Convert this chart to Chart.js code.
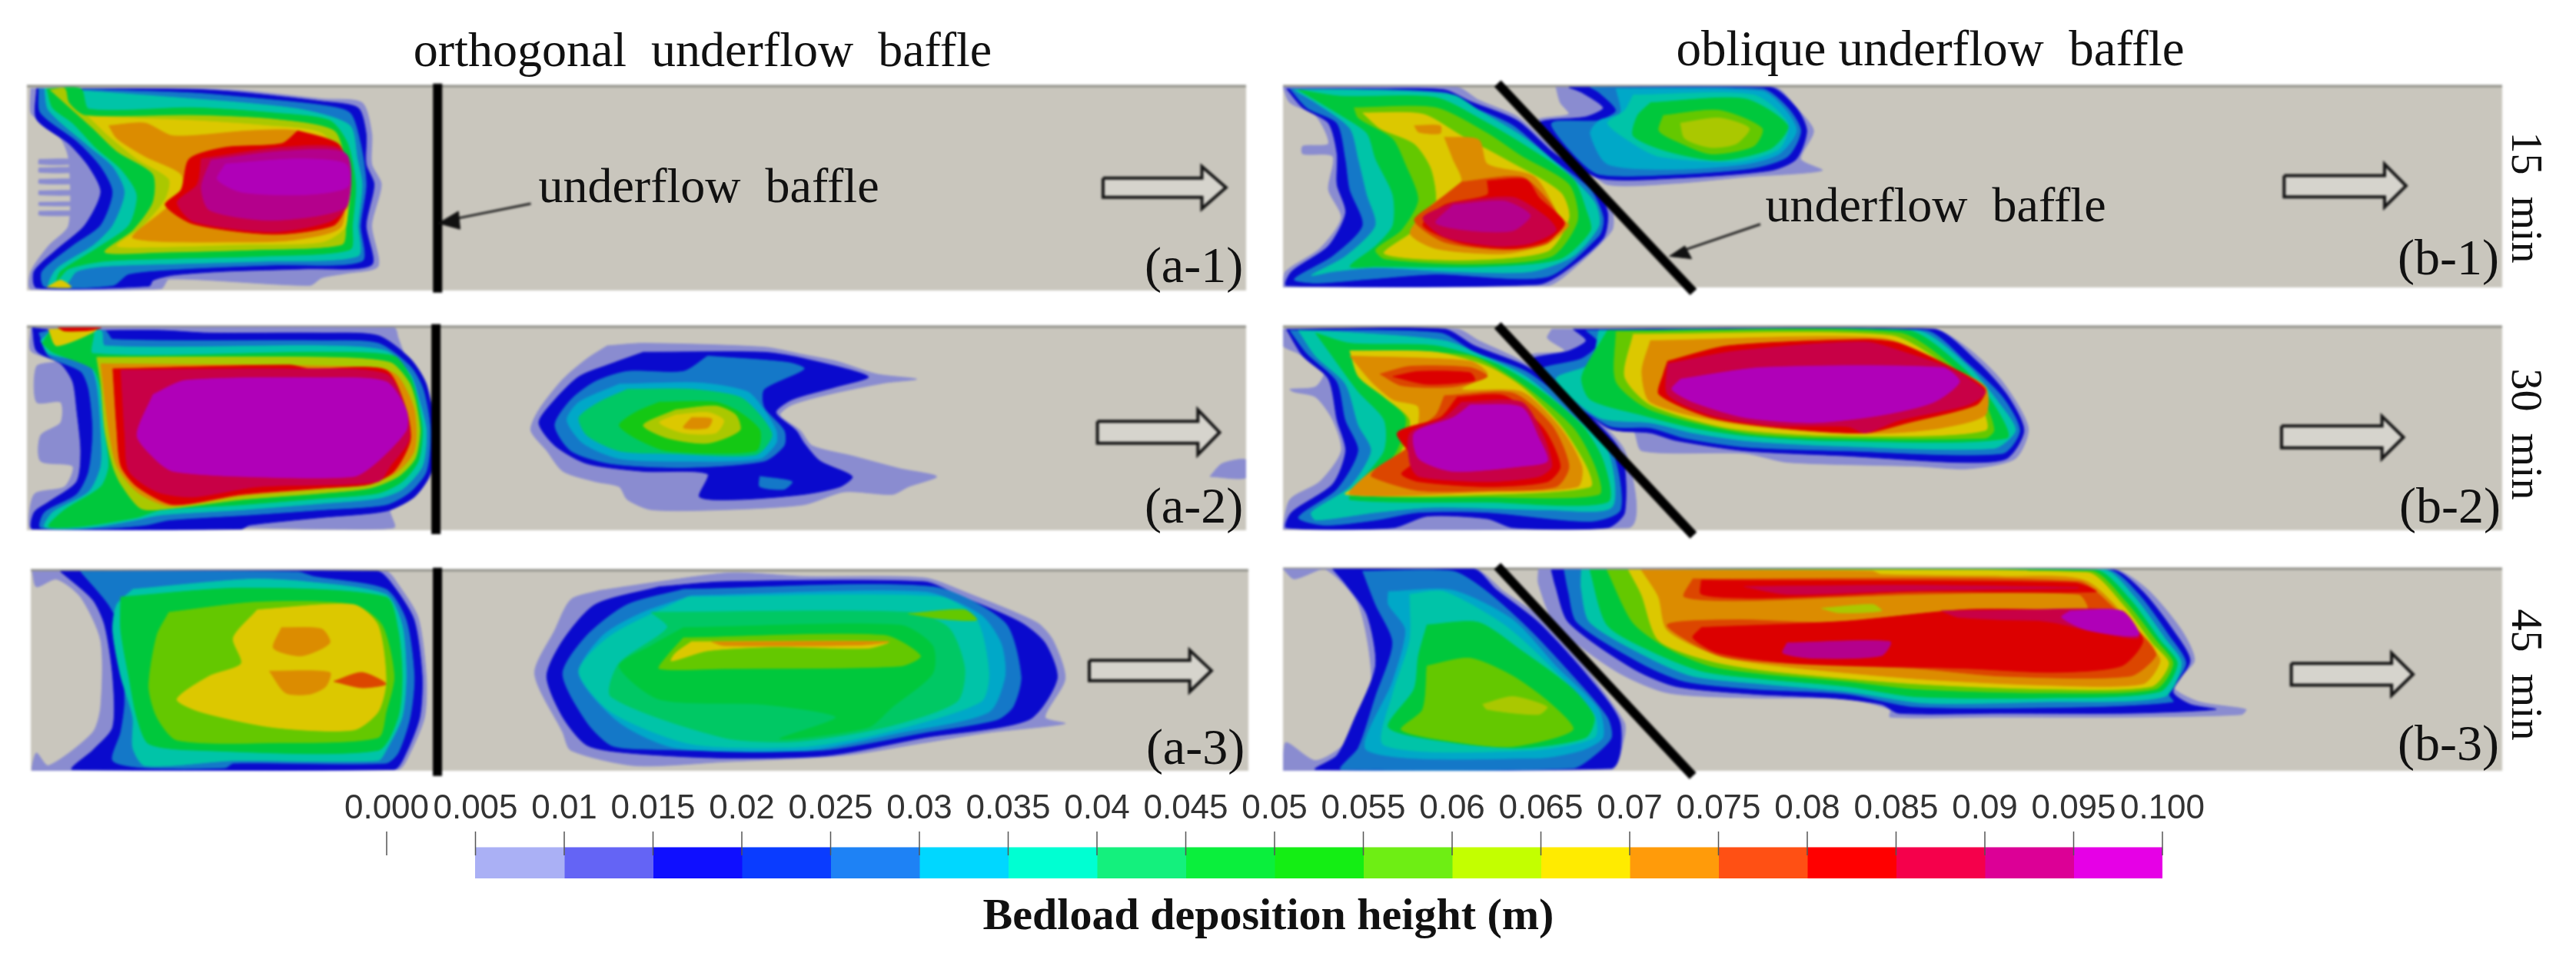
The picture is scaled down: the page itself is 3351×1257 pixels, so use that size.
<!DOCTYPE html>
<html>
<head>
<meta charset="utf-8">
<title>Bedload deposition height</title>
<script src="https://cdn.jsdelivr.net/npm/chart.js@4"></script>
<style>
    html, body { margin: 0; padding: 0; background: #fff; }
    #page { position: relative; width: 3351px; height: 1257px; overflow: hidden; }
    canvas { position: absolute; }
    canvas.panel { filter: blur(1.5px); }
    .label { position: absolute; transform: translate(-50%, -50%); white-space: pre; color: #111;
             font-family: "Liberation Serif", serif; line-height: 1; }
</style>
</head>
<body>
<div id="page"></div>
<script>
// Colour scale, 19 classes between the tick values
const tickValues = [0, 0.005, 0.01, 0.015, 0.02, 0.025, 0.03, 0.035, 0.04, 0.045, 0.05, 0.055, 0.06, 0.065, 0.07, 0.075, 0.08, 0.085, 0.09, 0.095, 0.1];
const tickLabels = ['0.000', '0.005', '0.01', '0.015', '0.02', '0.025', '0.03', '0.035', '0.04', '0.045', '0.05', '0.055', '0.06', '0.065', '0.07', '0.075', '0.08', '0.085', '0.09', '0.095', '0.100'];
const barColors = ['#aab0f5', '#6464f5', '#0f0fff', '#0a3cff', '#1e82f5', '#00d7ff', '#00ffd2', '#14f07d', '#0aef3c', '#14ee14', '#6eee14', '#c3ff00', '#ffeb00', '#ff9b0a', '#ff5014', '#ff0000', '#f5004b', '#dc0096', '#e600e6'];
// same classes as they look on the shaded bed
const mapColors = ['#8a8cd0', '#5a5ac8', '#0a0acd', '#0a32c8', '#1478c8', '#00a8c8', '#00c4a8', '#00c864', '#00c83c', '#14c814', '#64c800', '#aac800', '#dcc800', '#dc8c00', '#dc4600', '#dc0000', '#c80046', '#b4008c', '#b000b8'];

// Contours: [class, x,y outline], x along the flume, y across it
const panelA1 = [
    [0, [38,345, 240,345, 300,352, 400,385, 450,400, 462,520, 462,640, 474,720, 462,880, 470,1040, 430,1068, 400,1085, 385,1115, 210,1090, 200,1128, 38,1130, 38,1060, 60,960, 85,880, 85,620, 75,540, 48,470, 38,440]],
    [0, [48,622, 90,622, 90,640, 48,640]],
    [0, [48,655, 95,655, 95,672, 48,672]],
    [0, [48,700, 100,700, 100,716, 48,716]],
    [0, [48,745, 100,745, 100,760, 48,760]],
    [0, [48,790, 100,790, 100,802, 48,802]],
    [0, [48,825, 95,825, 95,840, 48,840]],
    [2, [45,345, 240,348, 300,360, 400,395, 445,420, 455,520, 455,640, 465,720, 455,880, 462,1035, 380,1050, 280,1060, 215,1075, 190,1095, 185,1118, 45,1125, 42,1060, 70,975, 105,880, 125,750, 110,650, 85,560, 45,465]],
    [4, [48,345, 130,350, 240,362, 300,378, 400,410, 435,440, 448,560, 455,720, 448,880, 450,1020, 340,1035, 230,1050, 160,1070, 140,1115, 55,1120, 52,1060, 90,960, 125,880, 140,750, 125,650, 95,550, 50,440]],
    [6, [55,345, 110,355, 240,385, 300,400, 380,430, 435,490, 444,620, 450,720, 445,880, 445,1000, 330,1020, 220,1030, 130,1040, 95,1060, 80,1118, 60,1118, 70,1050, 115,960, 140,880, 155,750, 140,650, 110,570, 60,430]],
    [8, [58,345, 100,345, 110,425, 240,420, 340,440, 410,470, 432,560, 442,720, 438,880, 435,975, 330,1000, 210,1010, 130,1020, 85,1050, 70,1100, 75,1060, 120,970, 160,880, 170,760, 150,660, 120,580, 90,480, 65,420]],
    [11, [62,350, 80,345, 85,400, 105,450, 240,450, 340,465, 415,510, 430,640, 436,720, 430,880, 425,955, 320,975, 200,985, 130,985, 165,900, 190,790, 190,680, 145,590, 115,500]],
    [12, [110,455, 240,470, 330,490, 400,520, 425,640, 430,880, 400,945, 300,955, 190,965, 145,960, 175,890, 205,780, 210,700, 170,620, 135,530]],
    [12, [58,1122, 75,1095, 88,1122]],
    [13, [135,490, 180,480, 215,530, 310,510, 370,510, 420,570, 425,880, 370,935, 300,945, 165,930, 200,830, 225,760, 225,680, 180,610, 145,540]],
    [15, [370,510, 420,560, 430,640, 430,800, 415,880, 340,915, 240,875, 205,800, 225,740, 235,620, 280,575, 350,560]],
    [16, [250,620, 350,575, 425,585, 432,800, 410,865, 340,905, 240,865, 220,790, 245,720]],
    [17, [262,625, 350,590, 430,600, 432,800, 400,840, 330,860, 260,820, 250,730]],
    [18, [280,640, 370,620, 430,640, 432,730, 380,760, 300,750, 270,700]]
];
const panelA2 = [
    [0, [38,80, 490,80, 495,120, 505,200, 525,300, 535,480, 530,650, 510,740, 485,790, 490,860, 400,865, 300,860, 38,865, 42,730, 80,700, 90,620, 50,600, 50,500, 75,450, 75,370, 45,370, 45,230, 70,210, 38,170]],
    [2, [40,80, 70,90, 200,90, 260,100, 400,100, 470,110, 510,200, 530,300, 540,480, 535,650, 515,740, 480,795, 400,820, 310,850, 300,865, 40,865, 42,800, 60,760, 95,680, 100,560, 95,400, 90,290, 75,220, 45,170]],
    [4, [48,100, 70,85, 130,90, 140,125, 400,130, 470,140, 510,230, 526,320, 535,480, 530,640, 510,720, 480,770, 400,790, 310,810, 210,830, 180,850, 130,862, 50,860, 55,800, 95,730, 110,640, 115,480, 110,320, 100,250, 60,190]],
    [6, [50,130, 65,90, 125,90, 130,150, 400,150, 480,170, 510,260, 520,350, 530,480, 525,620, 500,710, 470,745, 400,765, 300,790, 200,810, 160,835, 110,860, 55,858, 65,800, 110,720, 125,620, 125,480, 120,300, 110,220, 60,180]],
    [8, [52,140, 65,88, 115,90, 115,180, 400,175, 490,190, 510,270, 518,350, 525,480, 520,600, 500,680, 470,725, 400,745, 300,770, 200,790, 170,820, 100,855, 60,855, 80,790, 125,700, 135,620, 130,480, 125,320, 115,240, 65,175]],
    [12, [60,85, 120,85, 70,150]],
    [15, [72,80, 125,80, 110,90, 80,92]],
    [11, [120,195, 400,195, 485,215, 508,290, 516,360, 522,480, 516,590, 495,660, 460,705, 400,725, 300,750, 210,785, 175,785, 150,690, 140,620, 130,480, 125,300]],
    [13, [125,220, 470,235, 495,270, 515,400, 515,560, 490,650, 440,695, 300,735, 210,775, 170,720, 145,620, 135,480]],
    [15, [140,240, 360,225, 385,240, 480,245, 505,400, 510,520, 490,640, 460,690, 400,705, 300,730, 215,770, 170,700, 150,620, 145,480]],
    [16, [150,245, 360,240, 480,260, 505,400, 508,520, 485,620, 470,680, 320,700, 240,740, 195,720, 160,640, 155,500]],
    [18, [190,340, 230,285, 400,275, 480,290, 505,400, 505,480, 470,600, 440,660, 300,660, 215,640, 195,600, 170,500]],
    [0, [755,150, 800,140, 950,155, 1000,185, 1040,210, 1090,260, 1140,280, 1100,295, 1030,340, 985,380, 970,420, 995,480, 1010,540, 1060,580, 1120,630, 1165,660, 1130,700, 1110,730, 1050,720, 1000,770, 900,790, 810,790, 780,750, 770,700, 740,680, 700,640, 680,560, 660,480, 670,400, 700,280, 730,200]],
    [0, [1505,660, 1520,610, 1550,595, 1550,665]],
    [2, [800,175, 950,175, 1000,200, 1080,270, 1040,310, 985,360, 965,410, 990,480, 1000,530, 1020,600, 1060,660, 1045,700, 1000,730, 920,750, 870,740, 880,650, 800,640, 730,610, 690,540, 670,450, 690,360, 720,270, 760,220]],
    [4, [880,190, 980,215, 1000,240, 950,320, 950,390, 975,480, 975,540, 950,600, 850,625, 760,610, 710,560, 690,460, 710,360, 740,290, 780,250, 850,250]],
    [4, [945,660, 985,680, 975,710, 945,700]],
    [5, [770,300, 870,295, 930,330, 950,400, 965,480, 965,530, 945,590, 850,600, 770,590, 725,530, 705,440, 720,370]],
    [7, [780,320, 860,320, 920,350, 945,420, 960,500, 940,575, 830,570, 770,560, 730,500, 720,430, 745,370]],
    [9, [820,370, 890,370, 920,410, 945,480, 940,560, 830,560, 790,510, 770,460, 790,410]],
    [11, [840,400, 890,385, 915,420, 920,480, 880,530, 830,510, 800,460]],
    [12, [840,420, 880,410, 900,440, 890,490, 850,490, 820,450]],
    [13, [860,430, 885,435, 880,470, 850,470]]
];
const panelA3 = [
    [0, [40,70, 480,70, 495,120, 520,250, 530,480, 528,640, 510,780, 495,845, 40,850, 45,780, 60,830, 115,700, 125,600, 125,340, 100,170, 70,100, 45,130]],
    [2, [75,70, 470,70, 490,130, 515,260, 525,480, 522,640, 505,780, 490,845, 90,845, 115,770, 140,680, 140,480, 130,280, 115,180]],
    [4, [100,70, 370,72, 390,90, 480,140, 505,260, 515,480, 510,640, 495,780, 480,820, 290,820, 280,838, 180,838, 140,810, 150,700, 155,580, 150,300, 135,200]],
    [6, [165,140, 310,100, 380,110, 480,160, 500,280, 505,480, 500,640, 480,770, 470,810, 290,810, 180,830, 165,760, 165,640, 150,480, 140,300, 145,200]],
    [8, [150,170, 300,135, 480,170, 495,300, 500,480, 495,640, 470,770, 250,770, 185,745, 170,640, 160,480, 150,300]],
    [10, [210,230, 320,190, 440,200, 475,280, 490,480, 480,620, 470,720, 340,740, 220,730, 195,640, 185,520, 195,320]],
    [12, [320,220, 440,200, 470,280, 480,500, 470,620, 440,690, 340,680, 250,620, 220,570, 260,480, 300,430, 290,330]],
    [13, [350,290, 400,295, 410,350, 375,400, 340,370]],
    [13, [335,460, 410,465, 405,520, 385,550, 355,545]],
    [14, [415,500, 450,465, 480,510, 450,525]],
    [0, [745,145, 820,110, 910,75, 1000,90, 1150,95, 1200,150, 1290,270, 1310,340, 1325,490, 1300,640, 1325,665, 1230,700, 1150,740, 1050,790, 900,815, 790,830, 710,770, 700,700, 665,470, 690,300, 710,180]],
    [2, [820,130, 900,110, 1150,110, 1190,160, 1270,270, 1300,350, 1315,490, 1280,650, 1150,720, 1030,790, 900,800, 780,780, 730,750, 700,640, 680,480, 700,340, 740,200]],
    [4, [850,140, 1160,130, 1250,270, 1270,480, 1260,600, 1240,650, 1150,700, 1020,770, 800,765, 760,750, 730,660, 700,470, 730,320, 780,200]],
    [5, [860,165, 1150,150, 1220,240, 1245,350, 1250,480, 1230,620, 1120,700, 1000,770, 840,760, 770,660, 720,470, 750,320, 800,230]],
    [6, [855,170, 1170,170, 1215,260, 1230,470, 1220,580, 1100,700, 1000,755, 860,745, 760,620, 720,460, 760,320]],
    [7, [810,230, 1130,230, 1180,290, 1200,450, 1190,580, 1100,680, 990,735, 900,720, 760,560, 770,430, 830,290]],
    [8, [850,290, 1120,280, 1160,360, 1160,470, 1110,600, 1080,680, 970,725, 1040,640, 950,590, 820,570, 770,440, 810,360]],
    [10, [850,330, 1100,320, 1145,400, 1120,440, 900,450, 820,450, 830,400]],
    [10, [1130,235, 1200,220, 1215,260, 1170,255]],
    [12, [860,345, 1105,345, 1080,370, 960,365, 880,380, 835,420, 840,390]],
    [13, [885,345, 1105,345, 1070,358, 900,360]]
];
const panelB1 = [
    [0, [62,340, 265,340, 290,390, 335,455, 370,560, 420,700, 445,820, 445,900, 400,1050, 370,1115, 62,1120, 65,1060, 105,970, 130,850, 115,740, 120,610, 85,600, 85,570, 115,560, 100,450, 70,400]],
    [2, [66,345, 170,345, 250,350, 280,395, 335,470, 375,590, 425,720, 440,830, 435,930, 390,1060, 360,1110, 66,1115, 72,1060, 115,960, 135,830, 125,720, 125,600, 115,480, 85,420]],
    [4, [70,345, 250,360, 285,420, 330,490, 375,620, 420,740, 435,850, 430,920, 370,1080, 240,1070, 160,1090, 100,1105, 75,1090, 120,1000, 155,880, 140,740, 135,620, 125,480, 90,420]],
    [6, [75,350, 150,350, 260,370, 290,430, 340,530, 385,650, 425,790, 430,880, 400,1000, 350,1060, 260,1060, 170,1045, 120,1060, 95,1075, 135,1000, 170,880, 160,760, 150,620, 140,500, 100,400]],
    [8, [80,350, 130,375, 240,380, 295,470, 345,570, 400,700, 415,820, 420,900, 385,1010, 300,1040, 170,1040, 140,1040, 170,960, 190,880, 190,760, 170,620, 160,520, 130,450]],
    [10, [145,420, 240,420, 300,520, 340,610, 395,720, 405,860, 375,1000, 280,1030, 180,1010, 170,975, 200,900, 220,780, 205,640, 190,540, 150,460]],
    [12, [155,440, 225,445, 270,530, 320,620, 385,750, 395,850, 370,980, 270,1015, 180,990, 215,900, 240,800, 235,660, 215,560, 175,500]],
    [13, [215,490, 245,490, 245,520, 220,515]],
    [13, [250,535, 290,545, 300,640, 355,690, 385,850, 395,880, 370,950, 320,990, 240,970, 210,910, 235,800, 270,710, 260,620]],
    [14, [270,710, 340,690, 370,780, 385,870, 370,950, 320,975, 250,945, 215,860, 240,790]],
    [15, [300,705, 345,700, 360,770, 390,870, 370,940, 330,970, 270,950, 225,880, 250,800, 300,760]],
    [16, [260,790, 330,770, 370,850, 380,900, 350,950, 310,960, 250,925, 225,850]],
    [17, [260,800, 320,785, 350,840, 330,900, 280,900, 240,870]],
    [0, [380,340, 635,340, 660,420, 680,510, 665,620, 690,665, 600,690, 520,715, 440,720, 410,640, 370,500, 360,465, 395,445, 385,400]],
    [2, [395,340, 630,340, 660,420, 672,510, 660,620, 630,665, 520,695, 430,695, 390,600, 360,480, 415,455, 435,420, 410,360]],
    [4, [420,340, 620,345, 650,420, 665,510, 650,610, 610,655, 520,680, 430,680, 400,600, 375,480, 430,470, 450,430, 430,360]],
    [5, [450,345, 620,355, 645,420, 660,510, 640,600, 600,640, 520,660, 440,640, 420,520, 430,470, 455,440]],
    [6, [470,370, 610,370, 650,480, 640,580, 590,630, 500,610, 470,560, 440,480, 460,430]],
    [8, [490,400, 600,385, 650,490, 630,580, 570,625, 510,590, 470,530, 475,450]],
    [10, [505,450, 570,430, 620,500, 610,570, 560,600, 520,550, 500,510]],
    [11, [525,480, 570,460, 605,500, 590,560, 560,575, 530,540]]
];
const panelB2 = [
    [0, [62,85, 265,85, 290,130, 340,210, 400,360, 460,560, 465,860, 62,865, 70,750, 105,680, 130,560, 120,440, 100,350, 75,330, 70,320, 100,310, 110,250, 80,180, 62,150]],
    [2, [66,85, 250,85, 285,150, 345,230, 395,350, 455,560, 460,800, 440,860, 330,860, 300,825, 230,815, 190,860, 66,860, 72,800, 120,690, 135,560, 125,440, 115,280, 85,190]],
    [4, [70,90, 245,100, 285,175, 345,250, 395,380, 445,560, 455,790, 420,835, 300,800, 220,800, 170,830, 110,850, 80,820, 125,710, 150,560, 135,440, 125,290, 90,180]],
    [6, [80,90, 125,95, 250,130, 295,190, 345,270, 395,410, 440,560, 445,780, 370,790, 240,780, 170,800, 100,830, 95,800, 140,700, 165,560, 150,460, 135,300, 100,190]],
    [8, [100,100, 140,140, 240,150, 310,220, 360,320, 410,460, 435,600, 440,760, 300,760, 140,750, 150,690, 180,560, 180,440, 150,330, 115,170]],
    [10, [140,170, 280,190, 340,300, 400,470, 425,620, 430,730, 300,740, 150,730, 170,660, 195,560, 205,430, 170,320]],
    [12, [140,170, 240,175, 300,230, 340,310, 385,460, 415,620, 420,700, 300,730, 135,730, 170,660, 200,560, 210,440, 180,350, 150,270]],
    [13, [140,190, 280,210, 300,260, 270,320, 340,330, 385,470, 410,620, 405,700, 300,720, 140,730, 165,640, 210,560, 220,390, 190,360, 165,290]],
    [14, [175,260, 210,230, 280,235, 300,270, 260,310, 200,305]],
    [14, [250,345, 330,335, 375,460, 395,620, 380,700, 300,715, 220,715, 165,660, 170,630, 210,540, 210,500, 240,420]],
    [15, [190,270, 220,250, 280,255, 285,285, 230,300]],
    [15, [265,350, 320,345, 365,470, 385,620, 370,680, 300,700, 220,680, 200,650, 215,600, 195,490, 245,430]],
    [16, [270,370, 340,370, 365,500, 375,620, 360,660, 300,680, 220,660, 210,610, 210,490, 250,430]],
    [18, [280,380, 340,390, 360,510, 370,600, 340,620, 260,640, 220,590, 215,490, 260,430]],
    [0, [375,85, 820,85, 860,160, 900,290, 930,470, 915,590, 860,630, 800,620, 650,605, 600,570, 480,560, 470,480, 440,430, 350,190, 390,170, 370,120]],
    [2, [400,85, 820,85, 870,210, 905,340, 925,480, 905,590, 850,605, 720,580, 600,560, 520,520, 490,490, 440,470, 350,210, 395,170, 415,130]],
    [4, [415,90, 810,90, 860,220, 900,350, 920,480, 900,570, 720,560, 600,545, 530,510, 490,470, 440,460, 360,250, 410,200, 430,140]],
    [6, [430,90, 800,90, 860,230, 895,370, 915,480, 890,550, 700,540, 600,520, 540,490, 490,450, 430,430, 380,280, 420,220]],
    [8, [440,90, 790,90, 855,240, 890,380, 905,510, 700,520, 600,500, 540,470, 480,420, 420,360, 410,270]],
    [10, [450,95, 780,100, 845,240, 880,380, 890,480, 880,510, 700,510, 600,490, 490,400, 450,290]],
    [12, [470,105, 770,110, 835,230, 870,350, 880,480, 700,500, 580,470, 490,380, 460,270]],
    [13, [490,130, 760,120, 830,220, 880,310, 880,420, 830,470, 770,490, 700,490, 580,450, 490,370, 480,250]],
    [15, [510,210, 580,150, 740,125, 780,140, 850,250, 880,320, 870,380, 790,450, 740,490, 640,470, 560,430, 500,340, 505,260]],
    [16, [510,220, 590,170, 740,135, 790,180, 840,240, 880,330, 860,380, 780,440, 740,490, 720,465, 630,460, 560,420, 510,340]],
    [18, [525,280, 620,235, 830,235, 850,290, 820,370, 760,420, 680,450, 600,430, 540,370, 515,320]]
];
const panelB3 = [
    [0, [62,60, 285,60, 320,150, 370,270, 420,470, 460,660, 460,720, 445,845, 62,850, 65,740, 100,810, 135,740, 165,530, 150,200, 110,60, 75,100]],
    [2, [120,62, 285,62, 310,140, 360,270, 415,470, 455,660, 445,840, 100,845, 125,790, 145,650, 170,440, 160,240, 135,120]],
    [4, [155,70, 260,70, 300,150, 350,300, 400,480, 440,640, 445,720, 425,790, 400,840, 130,845, 150,760, 170,560, 190,350, 170,200]],
    [5, [185,150, 260,145, 330,260, 380,440, 430,610, 435,720, 410,770, 360,800, 160,770, 190,500, 205,300, 185,200]],
    [6, [210,160, 250,150, 320,280, 370,430, 425,630, 425,720, 350,770, 180,750, 190,550, 210,340]],
    [8, [230,280, 290,270, 340,380, 400,530, 425,640, 415,720, 340,760, 260,740, 185,680, 215,530, 220,400]],
    [10, [230,440, 280,410, 330,480, 375,590, 400,690, 330,755, 270,740, 200,690, 225,610]],
    [11, [295,590, 330,560, 370,600, 360,630, 300,610]],
    [0, [360,62, 1030,62, 1070,140, 1110,300, 1125,420, 1100,520, 1130,580, 1185,610, 1180,630, 1050,640, 890,640, 770,640, 770,610, 720,570, 610,565, 510,545, 450,460, 380,280, 360,120]],
    [2, [375,65, 1030,65, 1065,150, 1100,300, 1120,420, 1100,540, 1120,590, 1150,610, 1050,625, 900,625, 780,625, 760,590, 700,565, 610,550, 520,520, 470,450, 395,270, 380,130]],
    [4, [390,65, 1025,65, 1060,160, 1095,320, 1115,430, 1095,550, 1100,580, 1000,600, 800,600, 720,550, 610,530, 530,500, 480,430, 405,270, 395,150]],
    [6, [410,65, 1020,65, 1055,170, 1090,330, 1110,430, 1090,560, 950,580, 810,585, 720,540, 620,510, 540,480, 490,410, 420,270, 410,140]],
    [8, [420,65, 1010,65, 1050,180, 1085,340, 1105,430, 1085,540, 950,565, 800,560, 720,520, 620,490, 550,460, 490,380, 440,280]],
    [10, [440,65, 1005,70, 1045,190, 1080,340, 1100,430, 1080,530, 950,545, 800,530, 720,500, 620,470, 560,440, 510,370, 470,270]],
    [12, [465,65, 1000,75, 1040,195, 1075,350, 1095,430, 1075,520, 950,530, 800,510, 630,460, 560,420, 500,340, 480,160]],
    [13, [480,65, 760,70, 900,90, 1000,110, 1070,350, 1085,420, 1065,510, 950,515, 800,490, 640,440, 570,400, 510,300, 500,170]],
    [12, [750,66, 930,68, 920,84, 760,80]],
    [11, [690,215, 750,200, 760,225, 710,232]],
    [14, [540,100, 990,110, 1030,210, 1070,340, 1080,400, 1050,480, 900,480, 800,450, 650,430, 570,400, 510,280, 590,260, 700,270, 860,220, 1000,220, 990,160, 800,160, 600,185, 530,170]],
    [15, [550,105, 985,115, 1010,150, 800,150, 700,165, 610,175, 550,160]],
    [16, [600,130, 800,125, 990,135, 800,145, 650,160]],
    [15, [550,290, 720,265, 860,220, 1000,225, 1040,240, 1065,340, 1040,440, 960,465, 860,450, 660,430, 570,390, 540,330]],
    [16, [830,225, 980,225, 960,260, 850,250]],
    [16, [860,230, 1040,225, 1060,330, 1000,300, 960,270]],
    [18, [980,225, 1040,225, 1060,320, 1000,300, 970,250]],
    [17, [650,350, 770,345, 760,400, 680,410, 645,390]]
];

const bedColor = '#c9c6bd';
const bedEdge = '#8d8d85';

let charts = [];

function outline(flat, close) {
    const points = [];
    for (let i = 0; i < flat.length; i += 2) {
        points.push({ x: flat[i], y: flat[i + 1] });
    }
    if (close) points.push(points[0]);
    return points;
}

function shapeDataset(flat, color, edge, edgeWidth, tension) {
    return {
        type: 'scatter',
        data: outline(flat, true),
        showLine: true,
        fill: 'shape',
        tension: tension || 0,
        backgroundColor: color,
        borderColor: edge || color,
        borderWidth: edgeWidth === undefined ? 1 : edgeWidth,
        pointRadius: 0
    };
}

function lineDataset(flat, color, width) {
    return {
        type: 'scatter',
        data: outline(flat, false),
        showLine: true,
        fill: false,
        borderColor: color,
        borderWidth: width,
        pointRadius: 0,
        clip: false
    };
}

function addLabel(text, x, y, size, extra) {
    const el = document.createElement('div');
    el.className = 'label';
    el.textContent = text;
    el.style.left = x + 'px';
    el.style.top = y + 'px';
    el.style.fontSize = size + 'px';
    if (extra) el.style.cssText += extra;
    document.getElementById('page').appendChild(el);
}

// One flume panel. box = left, top, width, height on the page; range = x0, x1, y0, y1 of the bed
function createPanel(box, range, contours, baffle, arrow, pointer) {
    const pad = 16;
    const canvas = document.createElement('canvas');
    canvas.className = 'panel';
    canvas.style.left = (box[0] - pad) + 'px';
    canvas.style.top = (box[1] - pad) + 'px';
    canvas.style.width = (box[2] + pad * 2) + 'px';
    canvas.style.height = (box[3] + pad * 2) + 'px';
    canvas.width = box[2] + pad * 2;
    canvas.height = box[3] + pad * 2;
    document.getElementById('page').appendChild(canvas);

    const [x0, x1, y0, y1] = range;
    const datasets = [];
    datasets.push(shapeDataset([x0, y0, x1, y0, x1, y1, x0, y1], bedColor));
    datasets.push(lineDataset([x0, y0, x1, y0], bedEdge, 3));
    contours.forEach(item => {
        datasets.push(shapeDataset(item[1], mapColors[item[0]], null, 1, 0.25));
    });
    datasets.push(shapeDataset(arrow, '#d6d4cd', '#151515', 4));
    datasets.push(lineDataset(baffle, '#000000', 12));
    if (pointer) {
        datasets.push(lineDataset(pointer.line, '#222222', 3));
        datasets.push(shapeDataset(pointer.head, '#111111'));
    }

    charts.push(new Chart(canvas, {
        type: 'scatter',
        data: { datasets: datasets.reverse() },  // first dataset ends up on top
        options: {
            responsive: false,
            animation: false,
            events: [],
            layout: { padding: pad },
            plugins: { legend: { display: false }, tooltip: { enabled: false } },
            scales: {
                x: { type: 'linear', display: false, min: x0, max: x1 },
                y: { type: 'linear', display: false, min: y0, max: y1, reverse: true }
            }
        }
    }));
}

function createColorBar() {
    const canvas = document.createElement('canvas');
    canvas.style.left = '440px';
    canvas.style.top = '1020px';
    canvas.style.filter = 'blur(0.6px)';
    canvas.width = 2440;
    canvas.height = 123;
    document.getElementById('page').appendChild(canvas);

    const cellTop = 0.656;
    const datasets = [];
    tickValues.forEach(v => {
        datasets.push(lineDataset([v, 0.49, v, 1], '#555555', 1.5));
    });
    barColors.forEach((color, i) => {
        const lo = tickValues[i + 1];
        const hi = tickValues[i + 2];
        datasets.push(shapeDataset([lo, 0, hi, 0, hi, cellTop, lo, cellTop], color));
    });

    charts.push(new Chart(canvas, {
        type: 'scatter',
        data: { datasets: datasets },
        options: {
            responsive: false,
            animation: false,
            events: [],
            layout: { padding: { left: 63, right: 67, top: 0, bottom: 0 } },
            plugins: { legend: { display: false }, tooltip: { enabled: false } },
            scales: {
                x: {
                    type: 'linear',
                    position: 'top',
                    min: 0,
                    max: 0.1,
                    grid: { display: false, drawTicks: false },
                    border: { display: false },
                    afterFit: scale => { scale.height = 62; },
                    afterBuildTicks: scale => { scale.ticks = tickValues.map(v => ({ value: v })); },
                    ticks: {
                        autoSkip: false,
                        maxRotation: 0,
                        padding: 3,
                        color: '#333333',
                        font: { family: '"Liberation Sans"', size: 44 },
                        callback: (value, index) => tickLabels[index]
                    }
                },
                y: { type: 'linear', display: false, min: 0, max: 1 }
            }
        }
    }));
}

// Left column
createPanel([35, 112, 1586, 266], [33, 1550, 335, 1135], panelA1, [544, 325, 544, 1143],
    [1372,695, 1495,695, 1495,650, 1525,732, 1495,815, 1495,770, 1372,770],
    { line: [660,795, 565,855], head: [545,872, 570,825, 572,895] });
createPanel([35, 425, 1586, 265], [33, 1550, 75, 870], panelA2, [542, 65, 542, 885],
    [1365,445, 1490,445, 1490,400, 1517,488, 1490,575, 1490,530, 1365,530]);
createPanel([40, 742, 1584, 261], [38, 1553, 65, 850], panelA3, [544, 55, 544, 870],
    [1355,418, 1480,418, 1480,378, 1507,458, 1480,540, 1480,497, 1355,497]);

// Right column
createPanel([1669, 112, 1586, 262], [62, 1482, 335, 1122], panelB1, [312, 325, 540, 1140],
    [1228,685, 1345,685, 1345,640, 1370,725, 1345,808, 1345,768, 1228,768],
    { line: [618,875, 530,975], head: [512,1000, 530,960, 538,1010] });
createPanel([1669, 425, 1586, 265], [62, 1482, 75, 870], panelB2, [312, 70, 540, 890],
    [1225,463, 1342,463, 1342,425, 1367,507, 1342,590, 1342,548, 1225,548]);
createPanel([1669, 740, 1586, 263], [62, 1484, 60, 850], panelB3, [312, 50, 540, 870],
    [1238,430, 1355,430, 1355,390, 1380,473, 1355,555, 1355,515, 1238,515]);

createColorBar();

addLabel('orthogonal  underflow  baffle', 914, 65, 64);
addLabel('oblique underflow  baffle', 2511, 63, 65);
addLabel('underflow  baffle', 922, 242, 64);
addLabel('underflow  baffle', 2518, 267, 64);
addLabel('(a-1)', 1553, 345, 66);
addLabel('(a-2)', 1553, 658, 66);
addLabel('(a-3)', 1555, 972, 66);
addLabel('(b-1)', 3185, 335, 66);
addLabel('(b-2)', 3187, 658, 66);
addLabel('(b-3)', 3185, 967, 66);
addLabel('15  min', 3287, 257, 56, 'transform: translate(-50%, -50%) rotate(90deg);');
addLabel('30  min', 3287, 565, 56, 'transform: translate(-50%, -50%) rotate(90deg);');
addLabel('45  min', 3287, 878, 56, 'transform: translate(-50%, -50%) rotate(90deg);');
addLabel('Bedload deposition height (m)', 1650, 1190, 58, 'font-weight: bold;');
</script>
</body>
</html>
